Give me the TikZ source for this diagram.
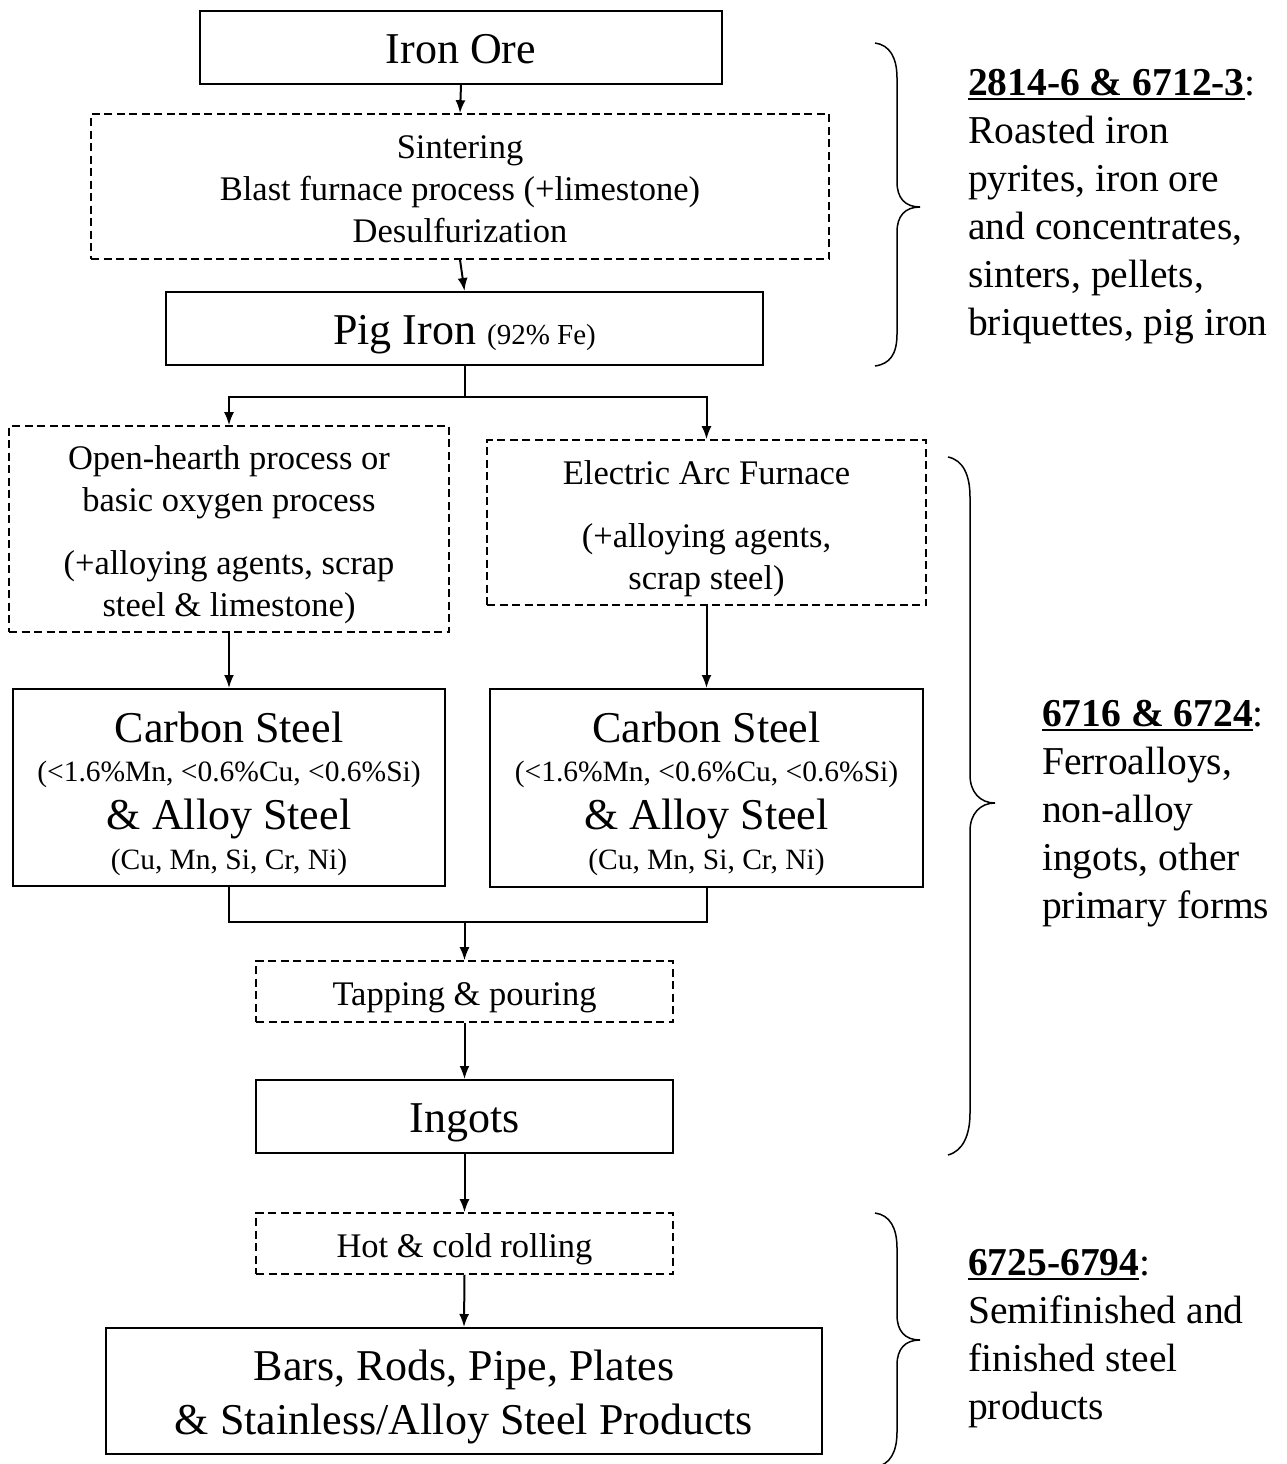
\documentclass[tikz,border=0pt]{standalone}
\usepackage{fontspec}
\setmainfont{Liberation Serif}
\usetikzlibrary{arrows.meta}
\newcommand\ulbold[1]{\setbox0\hbox{\textbf{#1}}\rlap{\rule[-5pt]{\wd0}{2.6pt}}\box0}
\newcommand\bigf{\fontsize{44}{44}\selectfont}
\newcommand\smallf{\fontsize{29.5}{44}\selectfont}
\newcommand\midf{\fontsize{34.5}{42}\selectfont}
\begin{document}
\begin{tikzpicture}[x=1pt,y=-1pt,
  solidbox/.style={draw,line width=2pt,inner sep=0pt},
  dashbox/.style={draw,line width=1.6pt,dash pattern=on 8pt off 4.5pt,inner sep=0pt},
  txtmid/.style={label={[align=center,inner sep=0pt,yshift=-6pt,font=\midf]center:{#1}}},
  txtbig/.style={label={[align=center,inner sep=0pt,yshift=-6pt,font=\bigf]center:{#1}}},
  arr/.style={line width=2pt,-{Latex[length=13pt,width=10pt]}},
  link/.style={line width=2pt},
  bracep/.style={line width=1.5pt},
  sidetext/.style={anchor=north west,inner sep=0pt,align=left,font=\fontsize{39.5}{48}\selectfont}]
\useasboundingbox (0,0) rectangle (1286,1464);

% boxes
\node[solidbox,minimum width=522pt,minimum height=73pt,
  label={[inner sep=0pt,yshift=-2pt,font=\bigf]center:Iron Ore}] (ore) at (461,47.5) {};
\node[dashbox,minimum width=738pt,minimum height=145pt,
  label={[align=center,inner sep=0pt,yshift=-3pt,font=\midf]center:{Sintering\\Blast furnace process (+limestone)\\Desulfurization}}] (sinter) at (460,186.5) {};
\node[solidbox,minimum width=597pt,minimum height=73pt,
  txtbig={Pig Iron {\fontsize{29}{29}\selectfont(92\% Fe)}}] (pig) at (464.5,328.5) {};
\node[dashbox,minimum width=440pt,minimum height=206pt,
  txtmid={Open-hearth process or\\basic oxygen process\\[21pt](+alloying agents, scrap\\steel \& limestone)}] (oh) at (229,529) {};
\node[dashbox,minimum width=439pt,minimum height=165pt,
  txtmid={Electric Arc Furnace\\[21pt](+alloying agents,\\scrap steel)}] (eaf) at (706.5,522.5) {};
\node[solidbox,minimum width=432pt,minimum height=197pt,
  txtbig={Carbon Steel\\[-5pt]\smallf(<1.6\%Mn, <0.6\%Cu, <0.6\%Si)\\[4pt]\& Alloy Steel\\[-4pt]\smallf(Cu, Mn, Si, Cr, Ni)}] (cs1) at (229,787.5) {};
\node[solidbox,minimum width=433pt,minimum height=198pt,
  txtbig={Carbon Steel\\[-5pt]\smallf(<1.6\%Mn, <0.6\%Cu, <0.6\%Si)\\[4pt]\& Alloy Steel\\[-4pt]\smallf(Cu, Mn, Si, Cr, Ni)}] (cs2) at (706.5,788) {};
\node[dashbox,minimum width=417pt,minimum height=61pt,
  txtmid={Tapping \& pouring}] (tap) at (464.5,991.5) {};
\node[solidbox,minimum width=417pt,minimum height=73pt,
  txtbig={Ingots}] (ing) at (464.5,1116.5) {};
\node[dashbox,minimum width=417pt,minimum height=61pt,
  txtmid={Hot \& cold rolling}] (roll) at (464.5,1243.5) {};
\node[solidbox,minimum width=716pt,minimum height=126pt,
  label={[align=center,inner sep=0pt,yshift=-6pt,font=\fontsize{44}{54}\selectfont]center:{Bars, Rods, Pipe, Plates\\\& Stainless/Alloy Steel Products}}] (bars) at (464,1391) {};

% connectors
\draw[arr] (ore.south) -- (sinter.north);
\draw[arr] (sinter.south) -- (pig.north);
\draw[link] (pig.south) -- ++(0,31) coordinate (splitpt);
\draw[arr] (splitpt) -| (oh.north);
\draw[arr] (splitpt) -| (eaf.north);
\draw[arr] (oh.south) -- (cs1.north);
\draw[arr] (eaf.south) -- (cs2.north);
\coordinate (join) at (464.5,922);
\draw[link] (cs1.south) |- (join);
\draw[link] (cs2.south) |- (join);
\draw[arr] (join) -- (tap.north);
\draw[arr] (tap.south) -- (ing.north);
\draw[arr] (ing.south) -- (roll.north);
\draw[arr] (roll.south) -- (bars.north);

% braces
\draw[bracep] (875,43) .. controls (890,45) and (897,58) .. (897,78) -- (897,182)
  .. controls (897,198) and (905,207) .. (920,207)
  .. controls (905,207) and (897,216) .. (897,232) -- (897,334)
  .. controls (897,354) and (890,364) .. (875,366);
\draw[bracep] (948,457) .. controls (963,460) and (970,475) .. (970,497) -- (970,775)
  .. controls (970,792) and (980,803) .. (995,803)
  .. controls (980,803) and (970,814) .. (970,831) -- (970,1113)
  .. controls (970,1135) and (963,1151) .. (948,1155);
\begin{scope}
\clip (0,0) rectangle (1286,1464);
\draw[bracep] (875,1213) .. controls (890,1215) and (897,1228) .. (897,1248) -- (897,1315)
  .. controls (897,1331) and (905,1340) .. (920,1340)
  .. controls (905,1340) and (897,1349) .. (897,1365) -- (897,1432)
  .. controls (897,1452) and (890,1465) .. (875,1467);
\end{scope}

% side texts
\node[sidetext] (t1) at (968,69) {\ulbold{2814-6 \& 6712-3}:\\Roasted iron\\pyrites, iron ore\\and concentrates,\\sinters, pellets,\\briquettes, pig iron};
\node[sidetext] (t2) at (1042,700) {\ulbold{6716 \& 6724}:\\Ferroalloys,\\non-alloy\\ingots, other\\primary forms};
\node[sidetext] (t3) at (968,1249) {\ulbold{6725-6794}:\\Semifinished and\\finished steel\\products};
\end{tikzpicture}
\end{document}
